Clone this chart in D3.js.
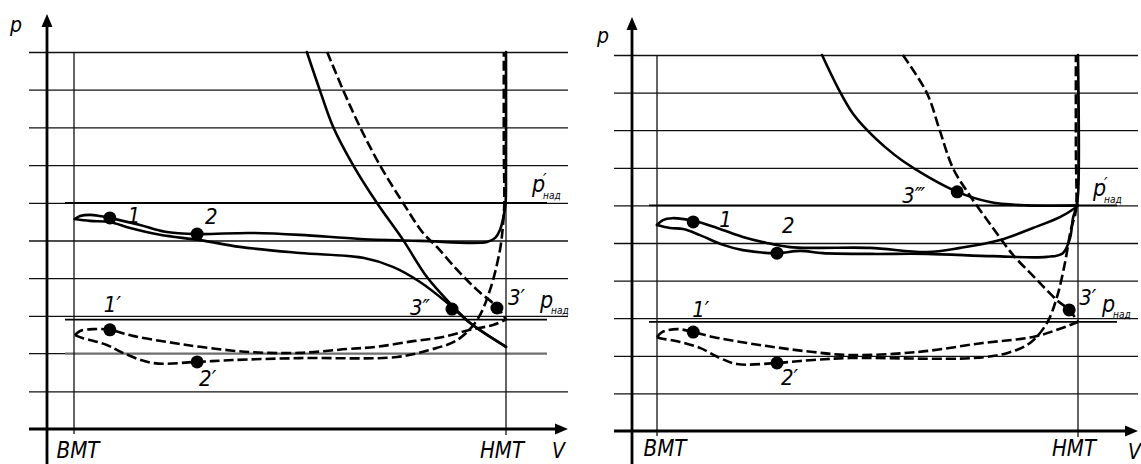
<!DOCTYPE html>
<html><head><meta charset="utf-8">
<script src="https://cdn.jsdelivr.net/npm/d3@7"></script>
<style>
html,body{margin:0;padding:0;background:#fff;}
svg{display:block;}
text{font-family:"DejaVu Sans Condensed","DejaVu Sans",sans-serif;font-style:oblique;fill:#000;}
</style>
</head><body>
<svg id="c" width="1141" height="464"></svg>
<script>
// ---------------- DATA (V: 0 = ВМТ, 100 = НМТ; p in grid units) ----------------
const gridLevels = [1, 2, 3, 4, 5, 6, 7, 8, 9, 10];
const pNadPrimeLevel = 6.0;   // p'над
const pNadLevel = 2.9;        // pнад
const pAtmLevel = 2.0;        // atmospheric line (left diagram)

// Left diagram
const leftSolidExpansion = [[53.9,10],[56.9,8.99],[60.0,8.01],[64.6,7.0],[70.1,6.0],[76.2,5.01],[81.7,4.03],[87.0,3.34],[91.7,2.81],[100,2.18]];
const leftSolidUpper = [[0.2,5.57],[1.4,5.65],[3.7,5.68],[6.0,5.65],[8.3,5.60],[15.3,5.41],[21.1,5.23],[28.5,5.17],[40.7,5.20],[52.3,5.15],[66.2,5.04],[80.1,4.99],[95.6,4.96],[97.5,5.07],[98.6,5.28],[99.5,5.68],[99.9,5.99],[100,6.87],[100,10]];
const leftSolidLower = [[0.2,5.57],[3.7,5.52],[8.3,5.49],[13.0,5.33],[19.9,5.15],[29.2,5.01],[38.4,4.83],[52.3,4.67],[66.9,4.54],[73.8,4.30],[80.1,3.90],[87.0,3.29],[91.7,2.81],[100,2.18]];
const leftDashedExpansion = [[58.6,10],[62.3,8.99],[66.2,8.01],[70.8,7.0],[76.2,5.99],[80.8,5.2],[84.0,4.83],[88.7,4.22],[93.3,3.69],[97.9,3.24],[100,2.9]];
const leftDashedUpper = [[0.2,2.49],[1.4,2.60],[4.4,2.65],[8.3,2.63],[13.6,2.47],[21.5,2.31],[29.2,2.18],[40.7,2.04],[52.3,2.02],[63.2,2.12],[70.1,2.18],[78.5,2.33],[85.4,2.44],[91.7,2.63],[97.0,2.76],[100,2.9]];
const leftDashedLower = [[0.2,2.49],[2.1,2.41],[7.6,2.23],[11.3,2.02],[18.3,1.75],[28.5,1.78],[36.8,1.83],[52.3,1.88],[74.8,1.91],[82.4,2.10],[88.7,2.36],[93.3,2.89],[96.3,3.69],[98.6,4.75],[99.3,5.41],[99.6,5.99],[99.5,7.4],[99.5,10]];
const leftPointNames = ["1", "2", "1′", "2′", "3″", "3′"];
const leftPointV = [8.3, 28.5, 8.3, 28.5, 87.5, 97.9];
const leftPointP = [5.6, 5.17, 2.63, 1.78, 3.18, 3.21];

// Right diagram
const rightSolidExpansion = [[39.2,10],[43.0,9.12],[46.3,8.48],[50.1,7.98],[54.2,7.55],[58.4,7.18],[64.8,6.73],[71.3,6.36],[79.1,6.09],[87.9,6.0],[100,6.0]];
const rightSolidUpper = [[0,5.48],[1.4,5.61],[3.6,5.66],[8.6,5.59],[14.3,5.40],[20.4,5.16],[26.1,5.0],[31.6,4.89],[38.0,4.87],[50.6,4.87],[64.1,4.76],[72.0,4.87],[81.5,5.08],[89.3,5.40],[95.7,5.69],[99.3,5.93],[100,6.0]];
const rightSolidLower = [[0,5.48],[3.1,5.40],[6.2,5.37],[10.2,5.21],[15.7,4.95],[20.4,4.81],[28.5,4.73],[34.0,4.79],[39.4,4.73],[50.6,4.71],[64.1,4.71],[79.8,4.65],[92.6,4.63],[96.4,4.73],[98.1,5.13],[98.8,5.66],[99.5,5.93],[100,6.28],[100,10]];
const rightDashedExpansion = [[58.4,10],[64.1,8.99],[67.2,7.98],[70.3,6.99],[73.9,6.33],[79.8,5.40],[84.6,4.68],[89.8,4.07],[95.0,3.48],[97.9,3.22],[100,2.9]];
const rightDashedUpper = [[0,2.50],[1.2,2.63],[4.8,2.71],[8.6,2.63],[13.3,2.50],[21.4,2.34],[29.2,2.21],[37.1,2.10],[45.8,2.02],[61.8,2.10],[77.4,2.34],[89.3,2.50],[95.0,2.69],[100,2.9]];
const rightDashedLower = [[0,2.50],[0.7,2.47],[5.5,2.37],[10.2,2.21],[15.0,1.94],[19.0,1.78],[28.5,1.81],[37.1,1.89],[45.8,1.94],[75.1,1.94],[83.1,2.07],[88.6,2.34],[92.6,2.87],[95.0,3.56],[96.9,4.47],[98.3,5.35],[99.3,5.74],[99.6,5.98],[99.5,7.47],[99.5,10]];
const rightPointNames = ["1", "2", "1′", "2′", "3‴", "3′"];
const rightPointV = [8.6, 28.5, 8.6, 28.5, 71.3, 97.9];
const rightPointP = [5.56, 4.73, 2.63, 1.81, 6.36, 3.22];

const axisLabels = { p: "p", v: "V", bdc: "ВМТ", tdc: "НМТ", pSym: "p", sub: "над", prime: "′" };

// ---------------- LAYOUT ----------------
const svg = d3.select("#c");
const panels = [
  { xr:[74,506], yr:[429,52], gridX:[29,568], yAxisX:47, yAxisTop:14, refX:[65,547],
    solid:[leftSolidExpansion,leftSolidUpper,leftSolidLower],
    dashed:[leftDashedExpansion,leftDashedUpper,leftDashedLower],
    names:leftPointNames, pv:leftPointV, pp:leftPointP,
    labelOff:[[18,5],[8,-10],[-6,-18],[2,24],[-42,6],[11,-3]],
    atm:true, pLabel:[10,32], vLabel:[552,458], bdcDx:4, tdcDx:-4, axisTextY:458,
    pPrimeLab:[532,192], pNadLab:[540,308] },
  { xr:[657,1078], yr:[431,55], gridX:[614,1138], yAxisX:632, yAxisTop:17, refX:[649,1117],
    solid:[rightSolidExpansion,rightSolidUpper,rightSolidLower],
    dashed:[rightDashedExpansion,rightDashedUpper,rightDashedLower],
    names:rightPointNames, pv:rightPointV, pp:rightPointP,
    labelOff:[[26,5],[5,-20],[-1,-15],[4,22],[-55,11],[10,-5]],
    atm:false, pLabel:[597,43], vLabel:[1128,459], bdcDx:8, tdcDx:-4, axisTextY:456,
    pPrimeLab:[1093,196], pNadLab:[1102,312] }
];

panels.forEach(P => {
  const g = svg.append("g");
  const x = d3.scaleLinear().domain([0,100]).range(P.xr);
  const y = d3.scaleLinear().domain([0,10]).range(P.yr);
  const gw = P.gridX[1] - P.gridX[0];

  // grid via axis
  const levels = P.atm ? gridLevels.filter(v => v !== pAtmLevel) : gridLevels;
  const grid = g.append("g").attr("transform", `translate(${P.gridX[0]},0)`)
    .call(d3.axisRight(y).tickValues(levels).tickSize(gw).tickFormat(""));
  grid.select(".domain").remove();
  grid.selectAll(".tick line").attr("stroke","#111").attr("stroke-width",1.3);

  if (P.atm) {
    g.append("line").attr("x1",P.gridX[0]).attr("x2",P.refX[0])
      .attr("y1",y(pAtmLevel)).attr("y2",y(pAtmLevel)).attr("stroke","#111").attr("stroke-width",1.3);
    g.append("line").attr("x1",P.refX[0]).attr("x2",P.refX[1])
      .attr("y1",y(pAtmLevel)).attr("y2",y(pAtmLevel)).attr("stroke","#6e6e6e").attr("stroke-width",2.4);
  }

  // reference pressure lines
  [pNadPrimeLevel, pNadLevel].forEach(lv => {
    g.append("line").attr("x1",P.refX[0]).attr("x2",P.refX[1])
      .attr("y1",y(lv)).attr("y2",y(lv)).attr("stroke","#000").attr("stroke-width",1.8);
  });

  // BDC / TDC verticals
  g.append("line").attr("x1",x(0)).attr("x2",x(0)).attr("y1",y(10)).attr("y2",y(0)+5)
    .attr("stroke","#111").attr("stroke-width",1.3);
  g.append("line").attr("x1",x(100)).attr("x2",x(100)).attr("y1",y(10)).attr("y2",y(0)+6)
    .attr("stroke","#111").attr("stroke-width",1.3);

  // axes
  g.append("line").attr("x1",P.gridX[0]).attr("x2",P.gridX[1]-6).attr("y1",y(0)).attr("y2",y(0))
    .attr("stroke","#000").attr("stroke-width",2.8);
  g.append("path").attr("d",`M${P.gridX[1]},${y(0)} L${P.gridX[1]-13},${y(0)-5.5} L${P.gridX[1]-13},${y(0)+5.5}Z`).attr("fill","#000");
  g.append("line").attr("x1",P.yAxisX).attr("x2",P.yAxisX).attr("y1",P.yAxisTop+6).attr("y2",464)
    .attr("stroke","#000").attr("stroke-width",2.8);
  g.append("path").attr("d",`M${P.yAxisX},${P.yAxisTop} L${P.yAxisX-5.5},${P.yAxisTop+13} L${P.yAxisX+5.5},${P.yAxisTop+13}Z`).attr("fill","#000");

  // curves
  const line = d3.line().x(d => x(d[0])).y(d => y(d[1])).curve(d3.curveCatmullRom.alpha(0.5));
  P.solid.forEach(s => g.append("path").attr("d", line(s)).attr("fill","none")
    .attr("stroke","#000").attr("stroke-width",2.6).attr("stroke-linejoin","round").attr("stroke-linecap","round"));
  P.dashed.forEach(s => g.append("path").attr("d", line(s)).attr("fill","none")
    .attr("stroke","#000").attr("stroke-width",2.6).attr("stroke-dasharray","10,4"));

  // points + labels
  P.names.forEach((nm, i) => {
    const cx = x(P.pv[i]), cy = y(P.pp[i]);
    g.append("circle").attr("cx",cx).attr("cy",cy).attr("r",6.5).attr("fill","#000");
    g.append("text").attr("x",cx+P.labelOff[i][0]).attr("y",cy+P.labelOff[i][1])
      .attr("font-size",22).text(nm);
  });

  // axis texts
  g.append("text").attr("x",P.pLabel[0]).attr("y",P.pLabel[1]).attr("font-size",21).text(axisLabels.p);
  g.append("text").attr("x",P.vLabel[0]).attr("y",P.vLabel[1]).attr("font-size",21).text(axisLabels.v);
  g.append("text").attr("x",x(0)+P.bdcDx).attr("y",P.axisTextY).attr("text-anchor","middle")
    .attr("font-size",23).attr("textLength",43).attr("lengthAdjust","spacingAndGlyphs").text(axisLabels.bdc);
  g.append("text").attr("x",x(100)+P.tdcDx).attr("y",P.axisTextY).attr("text-anchor","middle")
    .attr("font-size",23).attr("textLength",44).attr("lengthAdjust","spacingAndGlyphs").text(axisLabels.tdc);

  // p'над label
  const a = P.pPrimeLab;
  g.append("text").attr("x",a[0]).attr("y",a[1]).attr("font-size",23).text(axisLabels.pSym);
  g.append("text").attr("x",a[0]+11).attr("y",a[1]-6).attr("font-size",18).text(axisLabels.prime);
  g.append("text").attr("x",a[0]+11).attr("y",a[1]+7).attr("font-size",10).text(axisLabels.sub);
  // pнад label
  const b = P.pNadLab;
  g.append("text").attr("x",b[0]).attr("y",b[1]).attr("font-size",23).text(axisLabels.pSym);
  g.append("text").attr("x",b[0]+11).attr("y",b[1]+6).attr("font-size",10).text(axisLabels.sub);
});
</script>
</body></html>
